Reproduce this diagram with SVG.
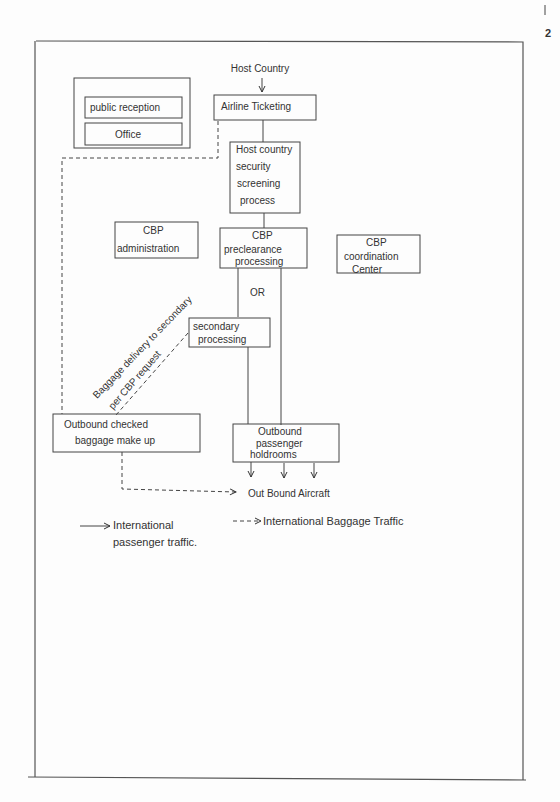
<svg xmlns="http://www.w3.org/2000/svg" width="560" height="802" viewBox="0 0 560 802">
<defs>
<style>
.bx{fill:none;stroke:#444;stroke-width:1}
.ln{fill:none;stroke:#444;stroke-width:1}
.ds{fill:none;stroke:#444;stroke-width:1;stroke-dasharray:4 3}
.fr{fill:none;stroke:#555;stroke-width:1.2}
text{font-family:"Liberation Sans",Arial,sans-serif;font-size:10px;fill:#333}
.c{text-anchor:middle}
</style>
<marker id="ah" markerWidth="8" markerHeight="8" refX="7" refY="4" orient="auto" markerUnits="userSpaceOnUse">
<path d="M1,1 L7,4 L1,7" fill="none" stroke="#333" stroke-width="1"/>
</marker>
</defs>
<rect width="560" height="802" fill="#fdfdfd"/>
<g id="page">
<path class="fr" d="M36,41 L523,42 L523,780"/>
<path class="fr" d="M35,41 L35,777"/>
<path class="fr" d="M28,777 L526,780"/>
<path class="ln" d="M545,5 L545,15"/>
<text x="548" y="37" style="font-size:11px;font-weight:bold" class="c">2</text>
</g>
<g id="connectors">
<path class="ln" d="M262,78 L262,92" marker-end="url(#ah)"/>
<path class="ln" d="M263,120 L263,142"/>
<path class="ln" d="M264,213 L264,228"/>
<path class="ln" d="M238,268 L238,317"/>
<path class="ln" d="M281,268 L281,425"/>
<path class="ln" d="M248,347 L248,424"/>
<path class="ln" d="M251,462 L251,477" marker-end="url(#ah)"/>
<path class="ln" d="M284,463 L284,478" marker-end="url(#ah)"/>
<path class="ln" d="M314,463 L314,478" marker-end="url(#ah)"/>
<path class="ds" d="M218,121 L218,158 L62,158 L62,414"/>
<path class="ds" d="M188,333 L116,415"/>
<path class="ds" d="M122,452 L122,489 L236,492" marker-end="url(#ah)"/>
</g>
<g id="host-country"><text x="260" y="72" class="c">Host Country</text></g>
<g id="public-reception-group">
<rect class="bx" x="74" y="78" width="116" height="70"/>
<g id="public-reception"><rect class="bx" x="85" y="97" width="97" height="21"/><text x="90" y="111">public reception</text></g>
<g id="office"><rect class="bx" x="85" y="123" width="97" height="22"/><text x="115" y="138">Office</text></g>
</g>
<g id="airline-ticketing"><rect class="bx" x="214" y="95" width="102" height="25"/><text x="221" y="110">Airline Ticketing</text></g>
<g id="security"><rect class="bx" x="230" y="142" width="70" height="71"/>
<text x="236" y="153">Host country</text><text x="236" y="170">security</text><text x="237" y="187">screening</text><text x="240" y="204">process</text></g>
<g id="cbp-admin"><rect class="bx" x="115" y="222" width="83" height="36"/><text x="143" y="234">CBP</text><text x="117" y="252">administration</text></g>
<g id="cbp-preclearance"><rect class="bx" x="220" y="228" width="87" height="40"/><text x="252" y="239">CBP</text><text x="224" y="253">preclearance</text><text x="235" y="265">processing</text></g>
<g id="cbp-coordination"><rect class="bx" x="337" y="235" width="83" height="38"/><text x="366" y="246">CBP</text><text x="344" y="260">coordination</text><text x="352" y="273">Center</text></g>
<g id="or"><text x="250" y="296">OR</text></g>
<g id="secondary"><rect class="bx" x="189" y="318" width="81" height="29"/><text x="193" y="330">secondary</text><text x="198" y="343">processing</text></g>
<g id="baggage-label">
<text transform="translate(97,399) rotate(-46)">Baggage delivery to secondary</text>
<text transform="translate(113,410) rotate(-49)">per CBP request</text>
</g>
<g id="outbound-baggage"><rect class="bx" x="53" y="414" width="147" height="38"/><text x="64" y="428">Outbound checked</text><text x="75" y="444">baggage make up</text></g>
<g id="holdrooms"><rect class="bx" x="233" y="424" width="106" height="38"/><text x="258" y="435">Outbound</text><text x="256" y="447">passenger</text><text x="250" y="458">holdrooms</text></g>
<g id="aircraft"><text x="248" y="497">Out Bound Aircraft</text></g>
<g id="legend">
<path class="ln" d="M80,526 L110,526" marker-end="url(#ah)"/>
<text x="113" y="529" style="font-size:11px">International</text>
<text x="113" y="546" style="font-size:11px">passenger traffic.</text>
<path class="ds" d="M233,521 L261,521" marker-end="url(#ah)"/>
<text x="263" y="525" style="font-size:11px">International Baggage Traffic</text>
</g>
</svg>
